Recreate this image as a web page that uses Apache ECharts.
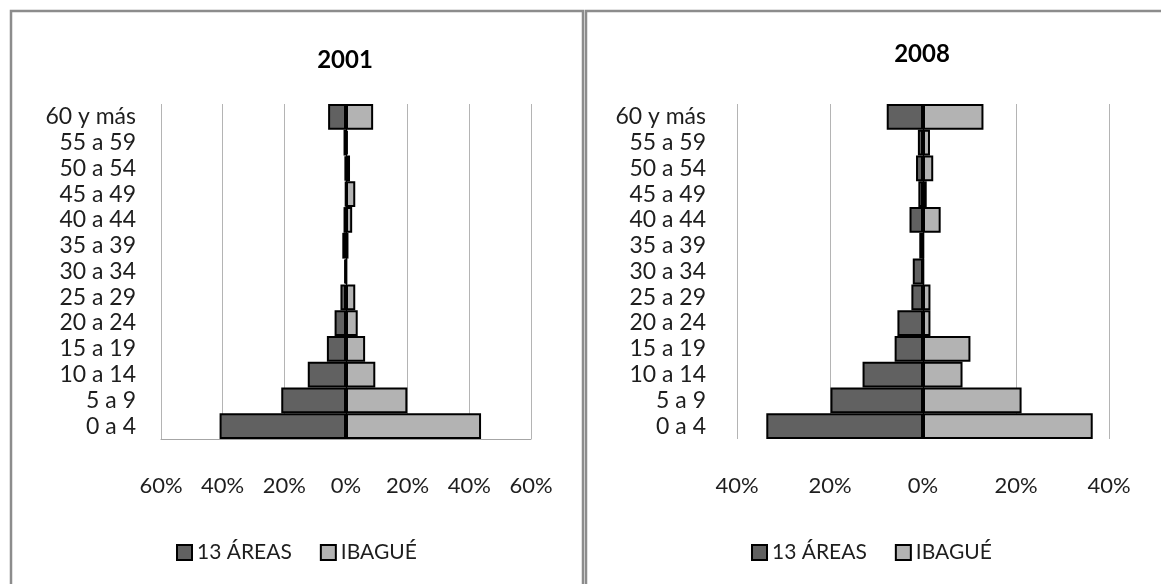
<!DOCTYPE html>
<html>
<head>
<meta charset="utf-8">
<script src="https://cdn.jsdelivr.net/npm/echarts@6/dist/echarts.min.js"></script>
<style>
html,body{margin:0;padding:0;background:#fff;}
#chart{width:1161px;height:584px;}
</style>
</head>
<body>
<div id="chart"></div>
<script>
// Age groups (bottom to top)
var categories = ['0 a 4','5 a 9','10 a 14','15 a 19','20 a 24','25 a 29','30 a 34','35 a 39','40 a 44','45 a 49','50 a 54','55 a 59','60 y más'];
// 2001 (percent)
var areas2001  = [41.0, 21.0, 12.4, 6.2, 3.7, 1.8, 0.6, 1.2, 0.8, 0.2, 0.4, 0.8, 5.8];
var ibague2001 = [43.8, 19.9, 9.5, 6.2, 3.8, 3.0, 0.2, 0.8, 2.0, 3.0, 1.3, 0.6, 8.8];
// 2008 (percent)
var areas2008  = [33.7, 19.9, 13.0, 6.1, 5.5, 2.5, 2.2, 0.8, 2.9, 1.0, 1.5, 1.1, 7.8];
var ibague2008 = [36.5, 21.2, 8.5, 10.2, 1.6, 1.6, 0.1, 0.1, 3.8, 0.8, 2.2, 1.5, 13.0];
var titles = ['2001', '2008'];
var seriesNames = ['13 ÁREAS', 'IBAGUÉ'];
var ticks2001 = {min: -60, max: 60, interval: 20};
var ticks2008 = {min: -40, max: 40, interval: 20};

var FONT = 'Lato';
var TXT = '#1e1e1e';
var DARK = '#616161';
var LIGHT = '#b3b3b3';

function neg(arr){ return arr.map(function(v){ return -v; }); }

function xAxisFor(idx, t, showLine){
  return {
    type: 'value', gridIndex: idx, min: t.min, max: t.max, interval: t.interval,
    axisLine: {show: showLine, onZero: false, lineStyle: {color: '#a6a6a6', width: 1}},
    axisTick: {show: false},
    splitLine: {show: true, lineStyle: {color: '#b4b4b4', width: 1}},
    axisLabel: {
      margin: 36, color: TXT, fontFamily: FONT, fontSize: 22,
      formatter: function(v){ return Math.abs(v) + '%'; }
    }
  };
}
function yAxisFor(idx, margin){
  return {
    type: 'category', gridIndex: idx, data: categories,
    axisLine: {show: false, onZero: false},
    axisTick: {show: false},
    splitLine: {show: false},
    axisLabel: {margin: margin, color: TXT, fontFamily: FONT, fontSize: 23, interval: 0}
  };
}
function barSeries(name, idx, data, color, withLine){
  var s = {
    name: name, type: 'bar', xAxisIndex: idx, yAxisIndex: idx, data: data,
    barGap: '-100%', barCategoryGap: '0%',
    itemStyle: {color: color, borderColor: '#000', borderWidth: 2},
    emphasis: {disabled: true},
    animation: false
  };
  if (withLine) {
    s.markLine = {
      silent: true, symbol: ['none','none'], animation: false,
      label: {show: false},
      lineStyle: {color: '#000', width: 1.2, type: 'solid'},
      data: [{xAxis: 0}]
    };
  }
  return s;
}

var chart = echarts.init(document.getElementById('chart'), null, {renderer: 'canvas'});
var option = {
  animation: false,
  backgroundColor: '#fff',
  graphic: [
    {type: 'rect', shape: {x: 11, y: 11, width: 572, height: 620}, style: {fill: 'none', stroke: '#8c8c8c', lineWidth: 2.5}, z: 0},
    {type: 'rect', shape: {x: 586, y: 11, width: 620, height: 620}, style: {fill: 'none', stroke: '#8c8c8c', lineWidth: 2.5}, z: 0},
    {type: 'text', x: 345, y: 60, style: {text: titles[0], font: 'bold 24px ' + FONT, fill: '#000', align: 'center', verticalAlign: 'middle'}},
    {type: 'text', x: 922, y: 54, style: {text: titles[1], font: 'bold 24px ' + FONT, fill: '#000', align: 'center', verticalAlign: 'middle'}}
  ],
  grid: [
    {left: 161, right: 1161 - 531, top: 104, bottom: 584 - 439, containLabel: false},
    {left: 737, right: 1161 - 1109, top: 104, bottom: 584 - 439, containLabel: false}
  ],
  xAxis: [xAxisFor(0, ticks2001, true), xAxisFor(1, ticks2008, false)],
  yAxis: [yAxisFor(0, 25), yAxisFor(1, 31)],
  legend: [
    {data: seriesNames, left: 176, top: 542, itemWidth: 15, itemHeight: 15, itemGap: 28, padding: 0,
     icon: 'rect', selectedMode: false,
     itemStyle: {borderColor: '#000', borderWidth: 2},
     textStyle: {fontFamily: FONT, fontSize: 21, color: TXT}},
    {data: seriesNames, left: 751, top: 542, itemWidth: 15, itemHeight: 15, itemGap: 28, padding: 0,
     icon: 'rect', selectedMode: false,
     itemStyle: {borderColor: '#000', borderWidth: 2},
     textStyle: {fontFamily: FONT, fontSize: 21, color: TXT}}
  ],
  series: [
    barSeries(seriesNames[0], 0, neg(areas2001), DARK, false),
    barSeries(seriesNames[1], 0, ibague2001, LIGHT, true),
    barSeries(seriesNames[0], 1, neg(areas2008), DARK, false),
    barSeries(seriesNames[1], 1, ibague2008, LIGHT, true)
  ]
};
chart.setOption(option);
</script>
</body>
</html>
